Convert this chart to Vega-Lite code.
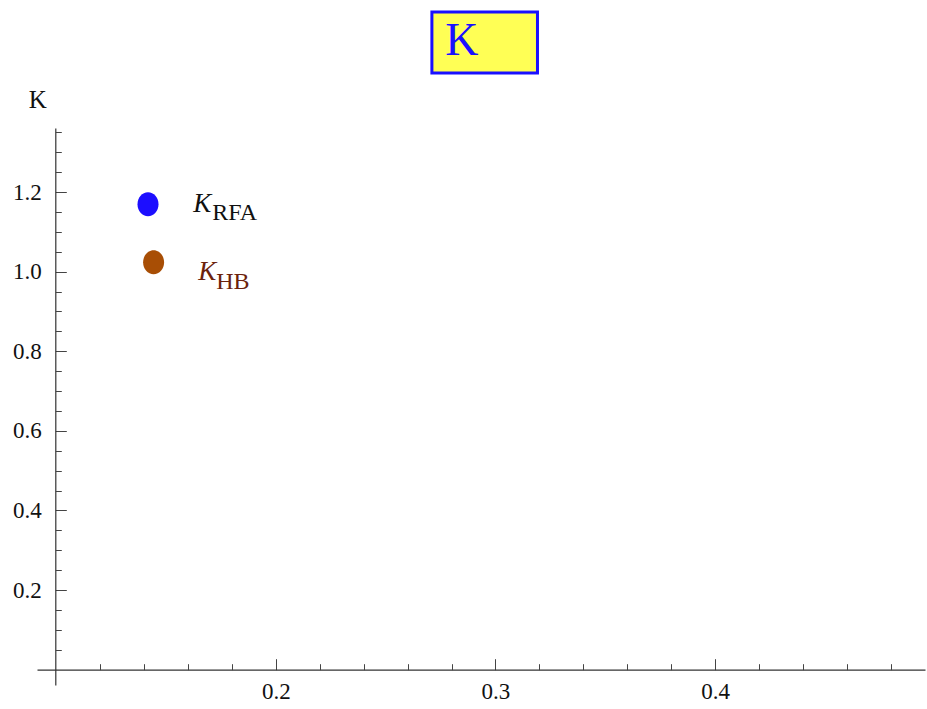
{
  "$schema": "https://vega.github.io/schema/vega-lite/v6.json",
  "width": 888,
  "height": 557,
  "autosize": {"type": "none"},
  "padding": {"left": 37, "top": 128, "right": 2, "bottom": 24},
  "background": "white",
  "config": {
    "view": {"stroke": null},
    "font": "Liberation Serif",
    "axis": {"grid": false, "labelFont": "Liberation Serif", "titleFont": "Liberation Serif"}
  },
  "datasets": {
    "points": [
      {"x": 0.14175, "y": 1.1692, "series": "RFA"},
      {"x": 0.1443, "y": 1.0236, "series": "HB"}
    ],
    "labels": [
      {"x": 0.16237, "y": 1.1491, "text": "K", "series": "RFA", "part": "main"},
      {"x": 0.17102, "y": 1.1291, "text": "RFA", "series": "RFA", "part": "sub"},
      {"x": 0.16465, "y": 0.9784, "text": "K", "series": "HB", "part": "main"},
      {"x": 0.17284, "y": 0.9558, "text": "HB", "series": "HB", "part": "sub"}
    ],
    "titlebox": [
      {"x": 0.27104, "x2": 0.31912, "y": 1.652, "y2": 1.4989, "tx": 0.2771, "ty": 1.5433, "text": "K"}
    ]
  },
  "resolve": {"axis": {"x": "independent", "y": "independent"}},
  "layer": [
    {
      "data": {"name": "points"},
      "mark": {
        "type": "point",
        "filled": true,
        "opacity": 1,
        "size": 576,
        "shape": "M -0.875,0 A 0.875,1 0 1,1 0.875,0 A 0.875,1 0 1,1 -0.875,0 Z"
      },
      "encoding": {
        "x": {
          "field": "x", "type": "quantitative",
          "scale": {"domain": [0.0912, 0.4956], "nice": false, "zero": false},
          "axis": {
            "values": [0.2, 0.3, 0.4],
            "orient": "bottom",
            "offset": -15.3,
            "title": null,
            "tickSize": -11,
            "tickColor": "#444444",
            "tickWidth": 1,
            "domainColor": "#333333",
            "domainWidth": 1.2,
            "labelFont": "Liberation Serif",
            "labelFontSize": 23,
            "labelColor": "#111111",
            "labelPadding": 22,
            "labelFlush": false,
            "format": ".1f"
          }
        },
        "y": {
          "field": "y", "type": "quantitative",
          "scale": {"domain": [-0.0384, 1.3608], "nice": false, "zero": false},
          "axis": {
            "values": [0.2, 0.4, 0.6, 0.8, 1.0, 1.2],
            "orient": "left",
            "offset": -18.3,
            "title": "K",
            "titleFont": "Liberation Serif",
            "titleAngle": 0,
            "titleFontSize": 25,
            "titleFontWeight": "normal",
            "titleColor": "#111111",
            "titleAlign": "center",
            "titleBaseline": "alphabetic",
            "titleX": -18,
            "titleY": -21,
            "tickSize": -11,
            "tickColor": "#444444",
            "tickWidth": 1,
            "domainColor": "#333333",
            "domainWidth": 1.2,
            "labelFont": "Liberation Serif",
            "labelFontSize": 23,
            "labelColor": "#111111",
            "labelPadding": 25,
            "labelFlush": false,
            "format": ".1f"
          }
        },
        "color": {
          "field": "series", "type": "nominal",
          "scale": {"domain": ["RFA", "HB"], "range": ["#1c0eff", "#a84e05"]},
          "legend": null
        }
      }
    },
    {
      "data": {"name": "labels"},
      "transform": [{"filter": "datum.part === 'main'"}],
      "mark": {"type": "text", "align": "left", "baseline": "alphabetic", "font": "Liberation Serif", "fontSize": 27, "fontStyle": "italic"},
      "encoding": {
        "x": {
          "field": "x", "type": "quantitative",
          "scale": {"domain": [0.0912, 0.4956], "nice": false, "zero": false},
          "axis": {
            "values": [0.12, 0.14, 0.16, 0.18, 0.22, 0.24, 0.26, 0.28, 0.32, 0.34, 0.36, 0.38, 0.42, 0.44, 0.46, 0.48],
            "orient": "bottom",
            "offset": -15.3,
            "title": null,
            "labels": false,
            "domain": false,
            "tickSize": -6,
            "tickColor": "#444444",
            "tickWidth": 1
          }
        },
        "y": {
          "field": "y", "type": "quantitative",
          "scale": {"domain": [-0.0384, 1.3608], "nice": false, "zero": false},
          "axis": {
            "values": [0.05, 0.1, 0.15, 0.25, 0.3, 0.35, 0.45, 0.5, 0.55, 0.65, 0.7, 0.75, 0.85, 0.9, 0.95, 1.05, 1.1, 1.15, 1.25, 1.3, 1.35],
            "orient": "left",
            "offset": -18.3,
            "title": null,
            "labels": false,
            "domain": false,
            "tickSize": -6,
            "tickColor": "#444444",
            "tickWidth": 1
          }
        },
        "text": {"field": "text"},
        "color": {
          "condition": {"test": "datum.series === 'HB'", "value": "#6b220c"},
          "value": "#111111"
        }
      }
    },
    {
      "data": {"name": "labels"},
      "transform": [{"filter": "datum.part === 'sub'"}],
      "mark": {"type": "text", "align": "left", "baseline": "alphabetic", "font": "Liberation Serif", "fontSize": 24, "fontStyle": "normal"},
      "encoding": {
        "x": {"field": "x", "type": "quantitative", "scale": {"domain": [0.0912, 0.4956], "nice": false, "zero": false}, "axis": null},
        "y": {"field": "y", "type": "quantitative", "scale": {"domain": [-0.0384, 1.3608], "nice": false, "zero": false}, "axis": null},
        "text": {"field": "text"},
        "color": {
          "condition": {"test": "datum.series === 'HB'", "value": "#6b220c"},
          "value": "#111111"
        }
      }
    },
    {
      "data": {"name": "titlebox"},
      "mark": {"type": "rect", "fill": "#ffff55", "stroke": "#1a10ff", "strokeWidth": 3},
      "encoding": {
        "x": {"field": "x", "type": "quantitative", "scale": {"domain": [0.0912, 0.4956], "nice": false, "zero": false}, "axis": null},
        "x2": {"field": "x2"},
        "y": {"field": "y", "type": "quantitative", "scale": {"domain": [-0.0384, 1.3608], "nice": false, "zero": false}, "axis": null},
        "y2": {"field": "y2"}
      }
    },
    {
      "data": {"name": "titlebox"},
      "mark": {"type": "text", "align": "left", "baseline": "alphabetic", "font": "Liberation Serif", "fontSize": 46, "color": "#1a10ff"},
      "encoding": {
        "x": {"field": "tx", "type": "quantitative", "scale": {"domain": [0.0912, 0.4956], "nice": false, "zero": false}, "axis": null},
        "y": {"field": "ty", "type": "quantitative", "scale": {"domain": [-0.0384, 1.3608], "nice": false, "zero": false}, "axis": null},
        "text": {"field": "text"}
      }
    }
  ]
}
